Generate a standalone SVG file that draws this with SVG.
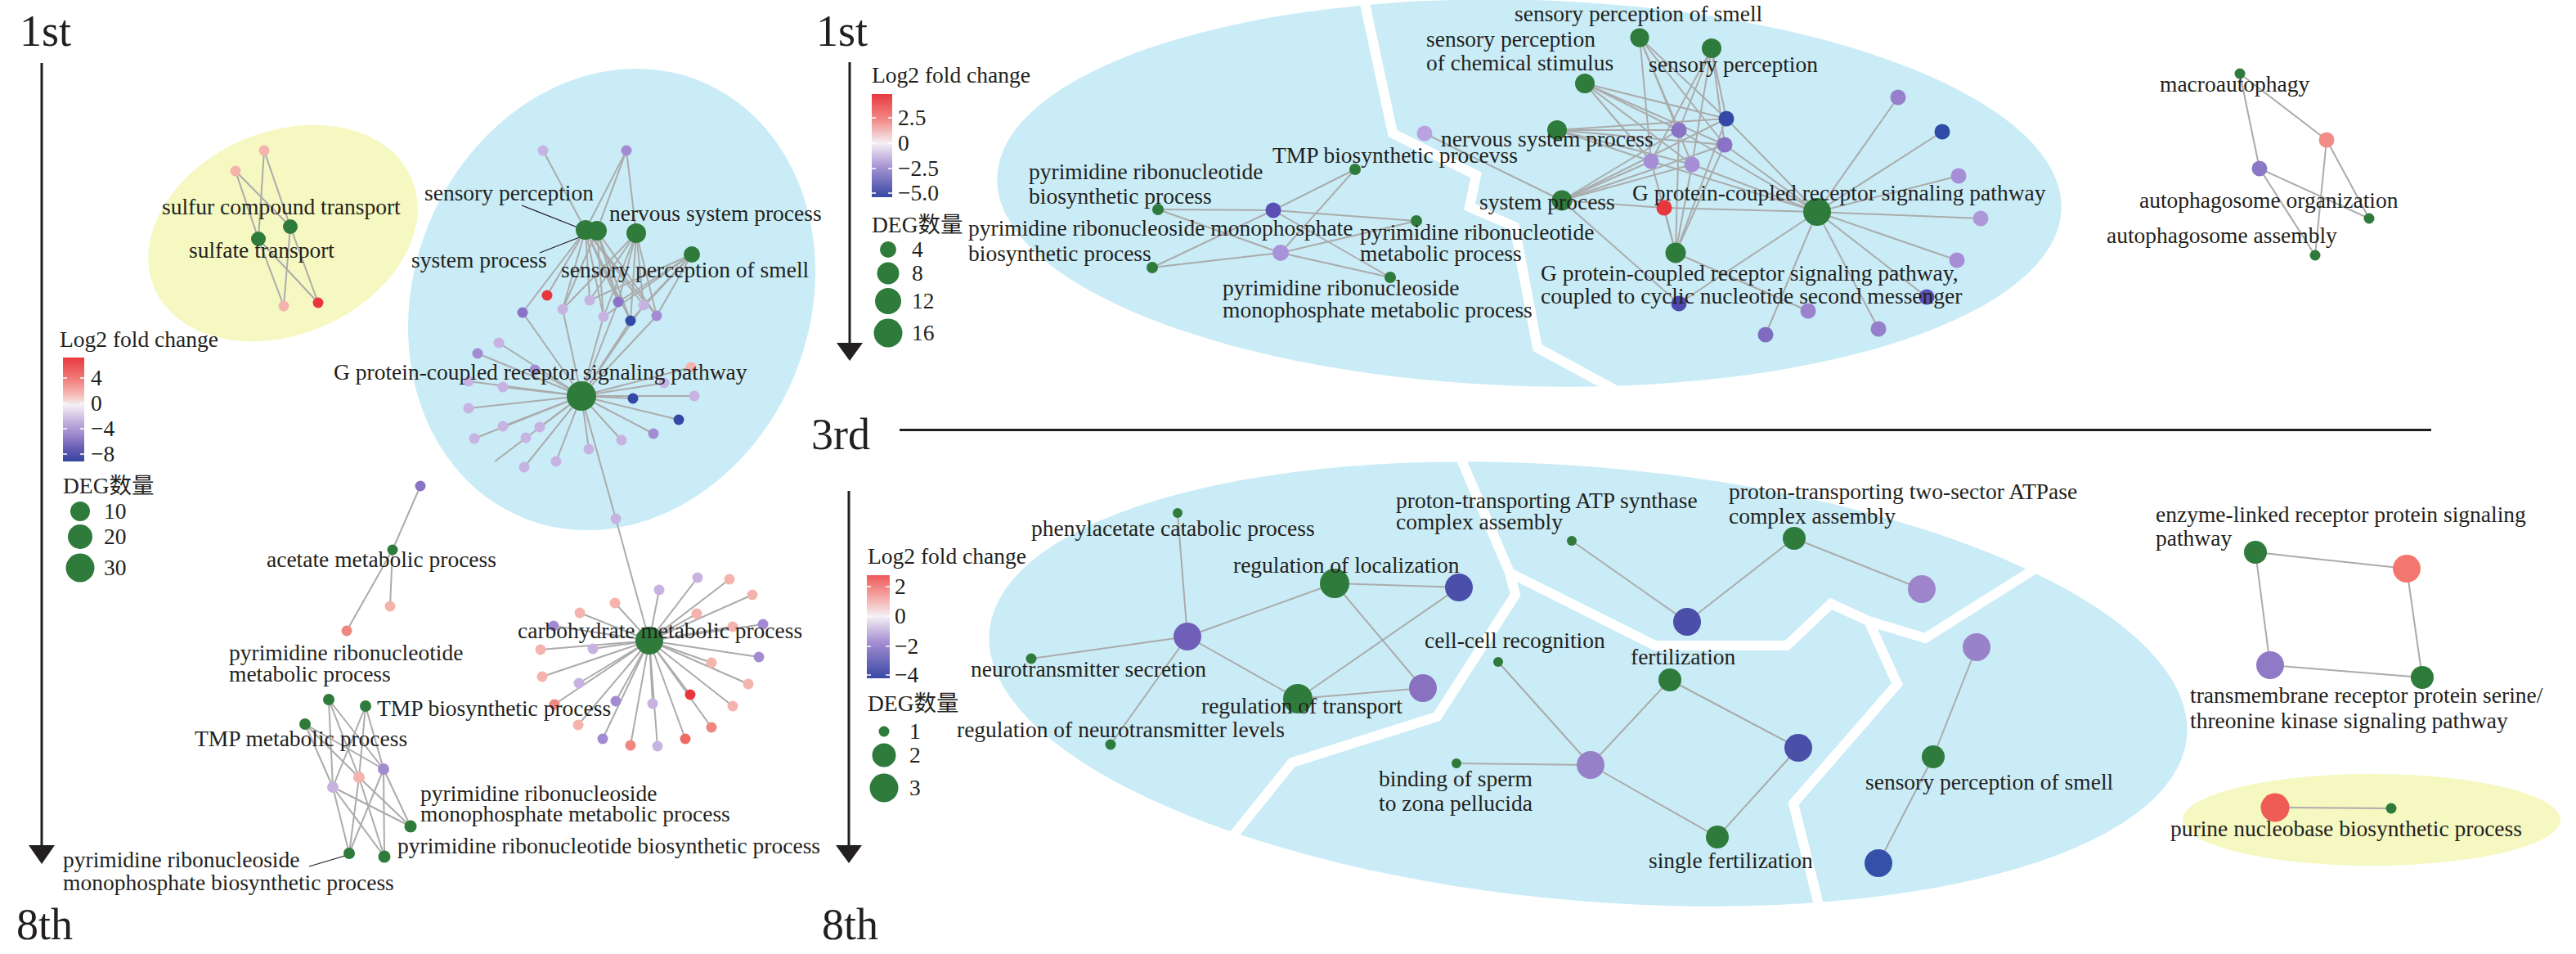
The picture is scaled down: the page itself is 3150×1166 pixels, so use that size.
<svg xmlns="http://www.w3.org/2000/svg" width="3150" height="1166" viewBox="0 0 3150 1166">
<defs>
<style>
.t{font-family:'Liberation Serif','Times New Roman','Noto Sans CJK SC',serif;font-size:27.5px;fill:#231F20}
.big{font-size:54px}
.e line{stroke:#ABABAB;stroke-width:2}
.ld{stroke:#231F20;stroke-width:1.3}
.ax{stroke:#231F20;stroke-width:3}
.wd{stroke:#FFFFFF;stroke-width:12;fill:none;stroke-linejoin:miter}
.tk{stroke:#FFFFFF;stroke-width:1.5}
.bg{fill:#C9ECF7}
.yb{fill:#F5F8C1}
.gr{fill:#2F7B3B}
.rd{fill:#E8373C}
.sa{fill:#F08680}
.pk{fill:#F5B3AD}
.lp{fill:#C7B3E1}
.pu{fill:#A38BD2}
.pm{fill:#8A72C5}
.bp{fill:#5A4FB3}
.bl{fill:#3449A6}
</style>
<linearGradient id="cb1" x1="0" y1="0" x2="0" y2="1">
<stop offset="0" stop-color="#E83A3F"/><stop offset="0.2" stop-color="#F07A78"/><stop offset="0.36" stop-color="#F6BCB8"/><stop offset="0.46" stop-color="#F4F0F4"/><stop offset="0.6" stop-color="#C9B7E0"/><stop offset="0.76" stop-color="#9583CA"/><stop offset="0.89" stop-color="#6258B0"/><stop offset="1" stop-color="#3347A0"/>
</linearGradient>
<linearGradient id="cb2" x1="0" y1="0" x2="0" y2="1">
<stop offset="0" stop-color="#E83A3F"/><stop offset="0.25" stop-color="#F28A87"/><stop offset="0.476" stop-color="#F4F0F4"/><stop offset="0.7" stop-color="#A995D4"/><stop offset="1" stop-color="#3848A4"/>
</linearGradient>
<linearGradient id="cb3" x1="0" y1="0" x2="0" y2="1">
<stop offset="0" stop-color="#EE5A5C"/><stop offset="0.2" stop-color="#F4A3A0"/><stop offset="0.4" stop-color="#F4F0F4"/><stop offset="0.65" stop-color="#A58ED3"/><stop offset="1" stop-color="#3848A4"/>
</linearGradient>
</defs>
<rect width="3150" height="1166" fill="#FFFFFF"/>

<g id="backgrounds">
<ellipse class="yb" cx="346" cy="285" rx="171" ry="124" transform="rotate(-23 346 285)"/>
<ellipse class="bg" cx="748" cy="366" rx="242" ry="288" transform="rotate(22 748 366)"/>
<ellipse class="bg" cx="1870" cy="236" rx="651" ry="236" transform="rotate(1.7 1870 236)"/>
<polyline class="wd" points="1667,-5 1703,163 1805,214 1797,253 1852,277 1880,425 1985,482"/>
<ellipse class="bg" cx="1942" cy="836" rx="735" ry="265" transform="rotate(5 1942 836)"/>
<polyline class="wd" points="1784,555 1846,700 1853,727 1757,876 1580,932 1505,1025"/>
<polyline class="wd" points="1846,700 2024,789 2185,789 2239,738 2285,759 2354,780 2492,693"/>
<polyline class="wd" points="2285,759 2320,836 2193,982 2225,1110"/>
<ellipse class="yb" cx="2900" cy="1002" rx="231" ry="56"/>
</g>

<g id="axes">
<text class="t big" x="24" y="56">1st</text>
<line class="ax" x1="51" y1="77" x2="51" y2="1036"/>
<polygon points="35,1033 67,1033 51,1056" fill="#231F20"/>
<text class="t big" x="20" y="1148">8th</text>
<text class="t big" x="998" y="56">1st</text>
<line class="ax" x1="1039" y1="76" x2="1039" y2="422"/>
<polygon points="1023,419 1055,419 1039,441" fill="#231F20"/>
<text class="t big" x="992" y="549">3rd</text>
<line class="ax" x1="1100" y1="525.5" x2="2973" y2="525.5"/>
<line class="ax" x1="1038" y1="600" x2="1038" y2="1036"/>
<polygon points="1022,1033 1054,1033 1038,1055" fill="#231F20"/>
<text class="t big" x="1005" y="1148">8th</text>
</g>

<g id="legend-left">
<text class="t" x="73" y="424">Log2 fold change</text>
<rect x="77" y="437" width="26" height="127" fill="url(#cb1)"/>
<path class="tk" d="M77,462h5M98,462h5M77,493h5M98,493h5M77,524h5M98,524h5M77,555h5M98,555h5"/>
<text class="t" x="111" y="471">4</text>
<text class="t" x="111" y="502">0</text>
<text class="t" x="111" y="533">−4</text>
<text class="t" x="111" y="564">−8</text>
<text class="t" x="77" y="603">DEG数量</text>
<circle class="gr" cx="98" cy="625" r="12"/>
<circle class="gr" cx="98" cy="656" r="15"/>
<circle class="gr" cx="98" cy="694" r="17.5"/>
<text class="t" x="127" y="634">10</text>
<text class="t" x="127" y="665">20</text>
<text class="t" x="127" y="703">30</text>
</g>

<g id="legend-top">
<text class="t" x="1066" y="101">Log2 fold change</text>
<rect x="1066" y="115" width="25" height="126" fill="url(#cb2)"/>
<path class="tk" d="M1066,144h5M1086,144h5M1066,175h5M1086,175h5M1066,206h5M1086,206h5M1066,236h5M1086,236h5"/>
<text class="t" x="1098" y="153">2.5</text>
<text class="t" x="1098" y="184">0</text>
<text class="t" x="1098" y="215">−2.5</text>
<text class="t" x="1098" y="245">−5.0</text>
<text class="t" x="1066" y="284">DEG数量</text>
<circle class="gr" cx="1086" cy="305" r="10"/>
<circle class="gr" cx="1086" cy="334" r="13.5"/>
<circle class="gr" cx="1086" cy="368" r="16"/>
<circle class="gr" cx="1086" cy="407" r="17.5"/>
<text class="t" x="1115" y="314">4</text>
<text class="t" x="1115" y="343">8</text>
<text class="t" x="1115" y="377">12</text>
<text class="t" x="1115" y="416">16</text>
</g>

<g id="legend-bottom">
<text class="t" x="1061" y="689">Log2 fold change</text>
<rect x="1060" y="703" width="28" height="126" fill="url(#cb3)"/>
<path class="tk" d="M1060,717h5M1083,717h5M1060,753h5M1083,753h5M1060,790h5M1083,790h5M1060,825h5M1083,825h5"/>
<text class="t" x="1094" y="726">2</text>
<text class="t" x="1094" y="762">0</text>
<text class="t" x="1094" y="799">−2</text>
<text class="t" x="1094" y="834">−4</text>
<text class="t" x="1061" y="869">DEG数量</text>
<circle class="gr" cx="1081" cy="894" r="6.5"/>
<circle class="gr" cx="1081" cy="923" r="14.5"/>
<circle class="gr" cx="1081" cy="963" r="17.5"/>
<text class="t" x="1112" y="903">1</text>
<text class="t" x="1112" y="932">2</text>
<text class="t" x="1112" y="972">3</text>
</g>

<g id="connectors" class="e">
<line x1="355" y1="277" x2="323" y2="184"/><line x1="355" y1="277" x2="288" y2="209"/><line x1="355" y1="277" x2="347" y2="374"/><line x1="355" y1="277" x2="389" y2="370"/>
<line x1="316" y1="292" x2="323" y2="184"/><line x1="316" y1="292" x2="288" y2="209"/><line x1="316" y1="292" x2="347" y2="374"/><line x1="316" y1="292" x2="389" y2="370"/>
<line x1="716" y1="281" x2="664" y2="184"/><line x1="716" y1="281" x2="766" y2="184"/><line x1="716" y1="281" x2="669" y2="361"/><line x1="716" y1="281" x2="639" y2="382"/><line x1="716" y1="281" x2="688" y2="378"/><line x1="716" y1="281" x2="721" y2="367"/><line x1="716" y1="281" x2="756" y2="369"/><line x1="716" y1="281" x2="738" y2="387"/><line x1="716" y1="281" x2="771" y2="392"/><line x1="716" y1="281" x2="787" y2="373"/><line x1="716" y1="281" x2="803" y2="386"/>
<line x1="730" y1="282" x2="766" y2="184"/><line x1="730" y1="282" x2="688" y2="378"/><line x1="730" y1="282" x2="756" y2="369"/><line x1="730" y1="282" x2="738" y2="387"/><line x1="730" y1="282" x2="771" y2="392"/><line x1="730" y1="282" x2="803" y2="386"/>
<line x1="778" y1="285" x2="766" y2="184"/><line x1="778" y1="285" x2="688" y2="378"/><line x1="778" y1="285" x2="721" y2="367"/><line x1="778" y1="285" x2="756" y2="369"/><line x1="778" y1="285" x2="738" y2="387"/><line x1="778" y1="285" x2="771" y2="392"/><line x1="778" y1="285" x2="787" y2="373"/><line x1="778" y1="285" x2="803" y2="386"/>
<line x1="846" y1="311" x2="721" y2="367"/><line x1="846" y1="311" x2="756" y2="369"/><line x1="846" y1="311" x2="738" y2="387"/><line x1="846" y1="311" x2="771" y2="392"/><line x1="846" y1="311" x2="787" y2="373"/><line x1="846" y1="311" x2="803" y2="386"/>
<line x1="711" y1="484" x2="639" y2="382"/><line x1="711" y1="484" x2="688" y2="378"/><line x1="711" y1="484" x2="738" y2="387"/><line x1="711" y1="484" x2="756" y2="369"/><line x1="711" y1="484" x2="771" y2="392"/><line x1="711" y1="484" x2="803" y2="386"/><line x1="711" y1="484" x2="787" y2="373"/>
<line x1="711" y1="484" x2="610" y2="419"/><line x1="711" y1="484" x2="584" y2="432"/><line x1="711" y1="484" x2="654" y2="452"/><line x1="711" y1="484" x2="573" y2="466"/><line x1="711" y1="484" x2="615" y2="473"/><line x1="711" y1="484" x2="573" y2="499"/><line x1="711" y1="484" x2="774" y2="487"/><line x1="711" y1="484" x2="845" y2="449"/><line x1="711" y1="484" x2="812" y2="468"/><line x1="711" y1="484" x2="849" y2="484"/><line x1="711" y1="484" x2="830" y2="513"/><line x1="711" y1="484" x2="799" y2="530"/><line x1="711" y1="484" x2="760" y2="538"/><line x1="711" y1="484" x2="720" y2="549"/><line x1="711" y1="484" x2="680" y2="564"/><line x1="711" y1="484" x2="641" y2="571"/><line x1="711" y1="484" x2="660" y2="522"/><line x1="711" y1="484" x2="615" y2="521"/><line x1="711" y1="484" x2="605" y2="564"/><line x1="711" y1="484" x2="580" y2="536"/><line x1="711" y1="484" x2="753" y2="634"/>
<line x1="480" y1="672" x2="514" y2="594"/><line x1="480" y1="672" x2="477" y2="741"/><line x1="480" y1="672" x2="424" y2="771"/>
<line x1="794" y1="783" x2="753" y2="634"/><line x1="794" y1="783" x2="806" y2="721"/><line x1="794" y1="783" x2="853" y2="706"/><line x1="794" y1="783" x2="892" y2="708"/><line x1="794" y1="783" x2="920" y2="727"/><line x1="794" y1="783" x2="752" y2="737"/><line x1="794" y1="783" x2="852" y2="750"/><line x1="794" y1="783" x2="709" y2="749"/><line x1="794" y1="783" x2="677" y2="765"/><line x1="794" y1="783" x2="896" y2="766"/><line x1="794" y1="783" x2="933" y2="763"/><line x1="794" y1="783" x2="661" y2="794"/><line x1="794" y1="783" x2="725" y2="793"/><line x1="794" y1="783" x2="928" y2="803"/><line x1="794" y1="783" x2="870" y2="810"/><line x1="794" y1="783" x2="663" y2="827"/><line x1="794" y1="783" x2="708" y2="835"/><line x1="794" y1="783" x2="915" y2="836"/><line x1="794" y1="783" x2="844" y2="849"/><line x1="794" y1="783" x2="753" y2="857"/><line x1="794" y1="783" x2="798" y2="860"/><line x1="794" y1="783" x2="678" y2="861"/><line x1="794" y1="783" x2="896" y2="863"/><line x1="794" y1="783" x2="707" y2="886"/><line x1="794" y1="783" x2="870" y2="889"/><line x1="794" y1="783" x2="737" y2="903"/><line x1="794" y1="783" x2="771" y2="911"/><line x1="794" y1="783" x2="804" y2="912"/><line x1="794" y1="783" x2="838" y2="903"/>
<line x1="402" y1="855" x2="469" y2="940"/><line x1="402" y1="855" x2="439" y2="950"/><line x1="402" y1="855" x2="407" y2="962"/>
<line x1="447" y1="863" x2="469" y2="940"/><line x1="447" y1="863" x2="439" y2="950"/><line x1="447" y1="863" x2="407" y2="962"/>
<line x1="373" y1="885" x2="469" y2="940"/><line x1="373" y1="885" x2="439" y2="950"/><line x1="373" y1="885" x2="407" y2="962"/>
<line x1="502" y1="1010" x2="469" y2="940"/><line x1="502" y1="1010" x2="439" y2="950"/><line x1="502" y1="1010" x2="407" y2="962"/>
<line x1="427" y1="1043" x2="469" y2="940"/><line x1="427" y1="1043" x2="439" y2="950"/><line x1="427" y1="1043" x2="407" y2="962"/>
<line x1="470" y1="1047" x2="469" y2="940"/><line x1="470" y1="1047" x2="439" y2="950"/><line x1="470" y1="1047" x2="407" y2="962"/>
<line x1="1416" y1="256" x2="1557" y2="257"/><line x1="1416" y1="256" x2="1566" y2="309"/><line x1="1657" y1="207" x2="1557" y2="257"/><line x1="1657" y1="207" x2="1566" y2="309"/><line x1="1409" y1="327" x2="1557" y2="257"/><line x1="1409" y1="327" x2="1566" y2="309"/><line x1="1700" y1="339" x2="1557" y2="257"/><line x1="1700" y1="339" x2="1566" y2="309"/><line x1="1732" y1="270" x2="1557" y2="257"/><line x1="1732" y1="270" x2="1566" y2="309"/>
<line x1="2005" y1="46" x2="2111" y2="145"/><line x1="2005" y1="46" x2="2053" y2="159"/><line x1="2005" y1="46" x2="2109" y2="177"/><line x1="2005" y1="46" x2="2019" y2="197"/><line x1="2005" y1="46" x2="2069" y2="201"/>
<line x1="2093" y1="59" x2="2111" y2="145"/><line x1="2093" y1="59" x2="2053" y2="159"/><line x1="2093" y1="59" x2="2109" y2="177"/><line x1="2093" y1="59" x2="2019" y2="197"/><line x1="2093" y1="59" x2="2069" y2="201"/>
<line x1="1938" y1="102" x2="2111" y2="145"/><line x1="1938" y1="102" x2="2053" y2="159"/><line x1="1938" y1="102" x2="2109" y2="177"/><line x1="1938" y1="102" x2="2019" y2="197"/><line x1="1938" y1="102" x2="2069" y2="201"/>
<line x1="1904" y1="159" x2="2111" y2="145"/><line x1="1904" y1="159" x2="2053" y2="159"/><line x1="1904" y1="159" x2="2109" y2="177"/><line x1="1904" y1="159" x2="2019" y2="197"/><line x1="1904" y1="159" x2="2069" y2="201"/>
<line x1="1910" y1="245" x2="2111" y2="145"/><line x1="1910" y1="245" x2="2053" y2="159"/><line x1="1910" y1="245" x2="2109" y2="177"/><line x1="1910" y1="245" x2="2019" y2="197"/><line x1="1910" y1="245" x2="2069" y2="201"/><line x1="1910" y1="245" x2="2035" y2="254"/><line x1="1910" y1="245" x2="1742" y2="163"/><line x1="1910" y1="245" x2="2053" y2="371"/>
<line x1="2049" y1="309" x2="2111" y2="145"/><line x1="2049" y1="309" x2="2053" y2="159"/><line x1="2049" y1="309" x2="2109" y2="177"/><line x1="2049" y1="309" x2="2019" y2="197"/><line x1="2049" y1="309" x2="2069" y2="201"/><line x1="2049" y1="309" x2="2035" y2="254"/><line x1="2049" y1="309" x2="2211" y2="380"/>
<line x1="2222" y1="259" x2="2111" y2="145"/><line x1="2222" y1="259" x2="2053" y2="159"/><line x1="2222" y1="259" x2="2109" y2="177"/><line x1="2222" y1="259" x2="2019" y2="197"/><line x1="2222" y1="259" x2="2069" y2="201"/><line x1="2222" y1="259" x2="2035" y2="254"/><line x1="2222" y1="259" x2="2321" y2="119"/><line x1="2222" y1="259" x2="2375" y2="161"/><line x1="2222" y1="259" x2="2395" y2="215"/><line x1="2222" y1="259" x2="2422" y2="267"/><line x1="2222" y1="259" x2="2393" y2="318"/><line x1="2222" y1="259" x2="2356" y2="363"/><line x1="2222" y1="259" x2="2297" y2="402"/><line x1="2222" y1="259" x2="2159" y2="409"/><line x1="2222" y1="259" x2="2053" y2="371"/>
<line x1="2739" y1="90" x2="2845" y2="171"/><line x1="2739" y1="90" x2="2763" y2="206"/><line x1="2897" y1="267" x2="2845" y2="171"/><line x1="2897" y1="267" x2="2763" y2="206"/><line x1="2831" y1="312" x2="2845" y2="171"/><line x1="2831" y1="312" x2="2763" y2="206"/>
<line x1="2758" y1="675" x2="2943" y2="695"/><line x1="2758" y1="675" x2="2776" y2="813"/><line x1="2962" y1="828" x2="2943" y2="695"/><line x1="2962" y1="828" x2="2776" y2="813"/>
<line x1="2924" y1="988" x2="2782" y2="987"/>
<line x1="1452" y1="778" x2="1440" y2="627"/><line x1="1452" y1="778" x2="1261" y2="805"/><line x1="1452" y1="778" x2="1358" y2="910"/><line x1="1452" y1="778" x2="1632" y2="713"/><line x1="1452" y1="778" x2="1587" y2="854"/>
<line x1="1632" y1="713" x2="1784" y2="718"/><line x1="1632" y1="713" x2="1740" y2="841"/><line x1="1587" y1="854" x2="1784" y2="718"/><line x1="1587" y1="854" x2="1740" y2="841"/>
<line x1="1922" y1="661" x2="2063" y2="760"/><line x1="2194" y1="658" x2="2063" y2="760"/><line x1="2194" y1="658" x2="2350" y2="720"/>
<line x1="1832" y1="809" x2="1945" y2="935"/><line x1="1781" y1="933" x2="1945" y2="935"/><line x1="2042" y1="831" x2="1945" y2="935"/><line x1="2100" y1="1023" x2="1945" y2="935"/><line x1="2042" y1="831" x2="2199" y2="914"/><line x1="2100" y1="1023" x2="2199" y2="914"/>
<line x1="2364" y1="925" x2="2417" y2="791"/><line x1="2364" y1="925" x2="2297" y2="1055"/>
</g>

<g id="leaders">
<line class="ld" x1="638" y1="251" x2="709" y2="279"/>
<line class="ld" x1="660" y1="309" x2="729" y2="282"/>
<line class="ld" x1="378" y1="1059" x2="425" y2="1045"/>
</g>

<g id="genes-left">
<g id="y1"><circle class="pk" cx="323" cy="184" r="6.5"/></g>
<g id="y2"><circle class="pk" cx="288" cy="209" r="6.5"/></g>
<g id="y3"><circle class="pk" cx="347" cy="374" r="6.5"/></g>
<g id="y4"><circle class="rd" cx="389" cy="370" r="6.5"/></g>
<g id="a1"><circle class="lp" cx="664" cy="184" r="6.5"/></g>
<g id="a2"><circle class="pu" cx="766" cy="184" r="6.5"/></g>
<g id="m1"><circle class="rd" cx="669" cy="361" r="6.5"/></g>
<g id="m2"><circle class="pm" cx="639" cy="382" r="6.5"/></g>
<g id="m3"><circle class="lp" cx="688" cy="378" r="6.5"/></g>
<g id="m4"><circle class="lp" cx="721" cy="367" r="6.5"/></g>
<g id="m5"><circle class="pm" cx="756" cy="369" r="6.5"/></g>
<g id="m6"><circle class="lp" cx="738" cy="387" r="6.5"/></g>
<g id="m7"><circle class="bl" cx="771" cy="392" r="6.5"/></g>
<g id="m8"><circle class="lp" cx="787" cy="373" r="6.5"/></g>
<g id="m9"><circle class="pu" cx="803" cy="386" r="6.5"/></g>
<g id="s1"><circle class="lp" cx="610" cy="419" r="6.5"/></g>
<g id="s2"><circle class="pu" cx="584" cy="432" r="6.5"/></g>
<g id="s3"><circle class="pu" cx="654" cy="452" r="6.5"/></g>
<g id="s4"><circle class="lp" cx="573" cy="466" r="6.5"/></g>
<g id="s5"><circle class="lp" cx="615" cy="473" r="6.5"/></g>
<g id="s6"><circle class="lp" cx="573" cy="499" r="6.5"/></g>
<g id="s7"><circle class="bl" cx="774" cy="487" r="6.5"/></g>
<g id="s8"><circle class="pk" cx="845" cy="449" r="6.5"/></g>
<g id="s9"><circle class="lp" cx="812" cy="468" r="6.5"/></g>
<g id="s10"><circle class="lp" cx="849" cy="484" r="6.5"/></g>
<g id="s11"><circle class="bl" cx="830" cy="513" r="6.5"/></g>
<g id="s12"><circle class="pu" cx="799" cy="530" r="6.5"/></g>
<g id="s13"><circle class="lp" cx="760" cy="538" r="6.5"/></g>
<g id="s14"><circle class="lp" cx="720" cy="549" r="6.5"/></g>
<g id="s15"><circle class="lp" cx="680" cy="564" r="6.5"/></g>
<g id="s16"><circle class="lp" cx="641" cy="571" r="6.5"/></g>
<g id="s17"><circle class="lp" cx="660" cy="522" r="6.5"/></g>
<g id="s18"><circle class="lp" cx="615" cy="521" r="6.5"/></g>
<g id="s19"><circle class="lp" cx="643" cy="535" r="6.5"/></g>
<g id="s20"><circle class="lp" cx="580" cy="536" r="6.5"/></g>
<g id="s21"><circle class="lp" cx="753" cy="634" r="6.5"/></g>
<g id="ac1"><circle class="pm" cx="514" cy="594" r="6.5"/></g>
<g id="ac2"><circle class="pk" cx="477" cy="741" r="6.5"/></g>
<g id="ac3"><circle class="sa" cx="424" cy="771" r="6.5"/></g>
<g id="c1"><circle class="lp" cx="806" cy="721" r="6.5"/></g>
<g id="c2"><circle class="lp" cx="853" cy="706" r="6.5"/></g>
<g id="c3"><circle class="pk" cx="892" cy="708" r="6.5"/></g>
<g id="c4"><circle class="pk" cx="920" cy="727" r="6.5"/></g>
<g id="c5"><circle class="pk" cx="752" cy="737" r="6.5"/></g>
<g id="c6"><circle class="pk" cx="852" cy="750" r="6.5"/></g>
<g id="c7"><circle class="pk" cx="709" cy="749" r="6.5"/></g>
<g id="c8"><circle class="pu" cx="677" cy="765" r="6.5"/></g>
<g id="c9"><circle class="pk" cx="896" cy="766" r="6.5"/></g>
<g id="c10"><circle class="pu" cx="933" cy="763" r="6.5"/></g>
<g id="c11"><circle class="pk" cx="661" cy="794" r="6.5"/></g>
<g id="c12"><circle class="lp" cx="725" cy="793" r="6.5"/></g>
<g id="c13"><circle class="pu" cx="928" cy="803" r="6.5"/></g>
<g id="c14"><circle class="pk" cx="870" cy="810" r="6.5"/></g>
<g id="c15"><circle class="pk" cx="663" cy="827" r="6.5"/></g>
<g id="c16"><circle class="lp" cx="708" cy="835" r="6.5"/></g>
<g id="c17"><circle class="pk" cx="915" cy="836" r="6.5"/></g>
<g id="c18"><circle class="rd" cx="844" cy="849" r="6.5"/></g>
<g id="c19"><circle class="pu" cx="753" cy="857" r="6.5"/></g>
<g id="c20"><circle class="lp" cx="798" cy="860" r="6.5"/></g>
<g id="c21"><circle class="sa" cx="678" cy="861" r="6.5"/></g>
<g id="c22"><circle class="pk" cx="896" cy="863" r="6.5"/></g>
<g id="c23"><circle class="pk" cx="707" cy="886" r="6.5"/></g>
<g id="c24"><circle class="sa" cx="870" cy="889" r="6.5"/></g>
<g id="c25"><circle class="pu" cx="737" cy="903" r="6.5"/></g>
<g id="c26"><circle class="sa" cx="771" cy="911" r="6.5"/></g>
<g id="c27"><circle class="lp" cx="804" cy="912" r="6.5"/></g>
<g id="c28"><circle fill="#EE6A66" cx="838" cy="903" r="6.5"/></g>
<g id="py1"><circle class="pu" cx="469" cy="940" r="7"/></g>
<g id="py2"><circle class="pk" cx="439" cy="950" r="7"/></g>
<g id="py3"><circle class="lp" cx="407" cy="962" r="7"/></g>
</g>

<g id="terms-left">
<g id="n-sulfur"><circle class="gr" cx="355" cy="277" r="9"/><text class="t" x="198" y="262">sulfur compound transport</text></g>
<g id="n-sulfate"><circle class="gr" cx="316" cy="292" r="9"/><text class="t" x="231" y="315">sulfate transport</text></g>
<g id="n-sysproc"><circle class="gr" cx="730" cy="282" r="12"/><text class="t" x="503" y="327">system process</text></g>
<g id="n-sensperc"><circle class="gr" cx="716" cy="281" r="12"/><text class="t" x="519" y="245">sensory perception</text></g>
<g id="n-nervous"><circle class="gr" cx="778" cy="285" r="12"/><text class="t" x="745" y="270">nervous system process</text></g>
<g id="n-smell"><circle class="gr" cx="846" cy="311" r="10"/><text class="t" x="686" y="339">sensory perception of smell</text></g>
<g id="n-gpcr"><circle class="gr" cx="711" cy="484" r="18"/><text class="t" x="408" y="464">G protein-coupled receptor signaling pathway</text></g>
<g id="n-acetate"><circle class="gr" cx="480" cy="672" r="6.5"/><text class="t" x="326" y="693">acetate metabolic process</text></g>
<g id="n-carb"><circle class="gr" cx="794" cy="783" r="17"/><text class="t" x="633" y="780">carbohydrate metabolic process</text></g>
<g id="n-prm"><circle class="gr" cx="402" cy="855" r="7"/><text class="t" x="280" y="807">pyrimidine ribonucleotide</text><text class="t" x="280" y="833">metabolic process</text></g>
<g id="n-tmpb"><circle class="gr" cx="447" cy="863" r="7"/><text class="t" x="461" y="875">TMP biosynthetic process</text></g>
<g id="n-tmpm"><circle class="gr" cx="373" cy="885" r="7"/><text class="t" x="238" y="912">TMP metabolic process</text></g>
<g id="n-prsmm"><circle class="gr" cx="502" cy="1010" r="7.5"/><text class="t" x="514" y="979">pyrimidine ribonucleoside</text><text class="t" x="514" y="1004">monophosphate metabolic process</text></g>
<g id="n-prsmb"><circle class="gr" cx="427" cy="1043" r="7"/><text class="t" x="77" y="1060">pyrimidine ribonucleoside</text><text class="t" x="77" y="1088">monophosphate biosynthetic process</text></g>
<g id="n-prb"><circle class="gr" cx="470" cy="1047" r="7.5"/><text class="t" x="486" y="1043">pyrimidine ribonucleotide biosynthetic process</text></g>
</g>

<g id="genes-top">
<g id="tg1"><circle class="bp" cx="1557" cy="257" r="9.5"/></g>
<g id="tg2"><circle fill="#A993D8" cx="1566" cy="309" r="10"/></g>
<g id="u1"><circle class="bl" cx="2111" cy="145" r="9.5"/></g>
<g id="u2"><circle class="pm" cx="2053" cy="159" r="9.5"/></g>
<g id="u3"><circle class="pm" cx="2109" cy="177" r="9.5"/></g>
<g id="u4"><circle fill="#A58ED5" cx="2019" cy="197" r="9.5"/></g>
<g id="u5"><circle fill="#A58ED5" cx="2069" cy="201" r="9.5"/></g>
<g id="ur"><circle class="rd" cx="2035" cy="254" r="9.5"/></g>
<g id="ux"><circle fill="#B9A3DE" cx="1742" cy="163" r="9.5"/></g>
<g id="t1"><circle fill="#9680CB" cx="2321" cy="119" r="9.5"/></g>
<g id="t2"><circle fill="#2F4BA8" cx="2375" cy="161" r="9.5"/></g>
<g id="t3"><circle fill="#A58ED5" cx="2395" cy="215" r="9.5"/></g>
<g id="t4"><circle fill="#AF98D8" cx="2422" cy="267" r="9.5"/></g>
<g id="t5"><circle fill="#A58ED5" cx="2393" cy="318" r="9.5"/></g>
<g id="t6"><circle class="bp" cx="2356" cy="363" r="9.5"/></g>
<g id="t7"><circle fill="#9680CB" cx="2297" cy="402" r="9.5"/></g>
<g id="t8"><circle fill="#9A82CD" cx="2211" cy="380" r="9.5"/></g>
<g id="t9"><circle fill="#7F6CC0" cx="2159" cy="409" r="9.5"/></g>
<g id="t10"><circle fill="#4E49AE" cx="2053" cy="371" r="9.5"/></g>
</g>

<g id="terms-top">
<g id="n-prb2"><circle class="gr" cx="1416" cy="256" r="7"/><text class="t" x="1258" y="219">pyrimidine ribonucleotide</text><text class="t" x="1258" y="249">biosynthetic process</text></g>
<g id="n-tmpb2"><circle class="gr" cx="1657" cy="207" r="7"/><text class="t" x="1556" y="199">TMP biosynthetic procevss</text></g>
<g id="n-prsmb2"><circle class="gr" cx="1409" cy="327" r="7"/><text class="t" x="1184" y="288">pyrimidine ribonucleoside monophosphate</text><text class="t" x="1184" y="319">biosynthetic process</text></g>
<g id="n-prsmm2"><circle class="gr" cx="1700" cy="339" r="7"/><text class="t" x="1495" y="361">pyrimidine ribonucleoside</text><text class="t" x="1495" y="388">monophosphate metabolic process</text></g>
<g id="n-prm2"><circle class="gr" cx="1732" cy="270" r="7"/><text class="t" x="1663" y="293">pyrimidine ribonucleotide</text><text class="t" x="1663" y="319">metabolic process</text></g>
<g id="n-smell2"><circle class="gr" cx="2005" cy="46" r="11.5"/><text class="t" x="1852" y="26">sensory perception of smell</text></g>
<g id="n-sensperc2"><circle class="gr" cx="2093" cy="59" r="12"/><text class="t" x="2016" y="88">sensory perception</text></g>
<g id="n-chem"><circle class="gr" cx="1938" cy="102" r="12"/><text class="t" x="1744" y="57">sensory perception</text><text class="t" x="1744" y="86">of chemical stimulus</text></g>
<g id="n-nervous2"><circle class="gr" cx="1904" cy="159" r="12"/><text class="t" x="1762" y="179">nervous system process</text></g>
<g id="n-sysproc2"><circle class="gr" cx="1910" cy="245" r="12.5"/><text class="t" x="1809" y="256">system process</text></g>
<g id="n-gcoup"><circle class="gr" cx="2049" cy="309" r="12.5"/><text class="t" x="1884" y="343">G protein-coupled receptor signaling pathway,</text><text class="t" x="1884" y="371">coupled to cyclic nucleotide second messenger</text></g>
<g id="n-gpcr2"><circle class="gr" cx="2222" cy="259" r="17"/><text class="t" x="1996" y="245">G protein-coupled receptor signaling pathway</text></g>
</g>

<g id="autophagy">
<g id="ag1"><circle fill="#F28C86" cx="2845" cy="171" r="9.5"/></g>
<g id="ag2"><circle fill="#8C78C6" cx="2763" cy="206" r="9.5"/></g>
<g id="n-macro"><circle class="gr" cx="2739" cy="90" r="6.5"/><text class="t" x="2641" y="112">macroautophagy</text></g>
<g id="n-aorg"><circle class="gr" cx="2897" cy="267" r="6.5"/><text class="t" x="2616" y="254">autophagosome organization</text></g>
<g id="n-aasm"><circle class="gr" cx="2831" cy="312" r="6.5"/><text class="t" x="2576" y="297">autophagosome assembly</text></g>
</g>

<g id="genes-bottom">
<g id="bg1"><circle fill="#6F5FB8" cx="1452" cy="778" r="17"/></g>
<g id="bg2"><circle fill="#4B4FAA" cx="1784" cy="718" r="17"/></g>
<g id="bg3"><circle fill="#8A70C0" cx="1740" cy="841" r="17"/></g>
<g id="bg4"><circle fill="#4B4FAA" cx="2063" cy="760" r="17"/></g>
<g id="bg5"><circle fill="#9E85CB" cx="2350" cy="720" r="17"/></g>
<g id="bg6"><circle fill="#9680C8" cx="1945" cy="935" r="17"/></g>
<g id="bg7"><circle fill="#4A4FA8" cx="2199" cy="914" r="17"/></g>
<g id="bg8"><circle fill="#9A82C9" cx="2417" cy="791" r="17"/></g>
<g id="bg9"><circle fill="#3550A8" cx="2297" cy="1055" r="17"/></g>
<g id="rg1"><circle fill="#F3776E" cx="2943" cy="695" r="17"/></g>
<g id="rg2"><circle fill="#8E7AC6" cx="2776" cy="813" r="17"/></g>
<g id="rg3"><circle fill="#EF5B55" cx="2782" cy="987" r="17.5"/></g>
</g>

<g id="terms-bottom">
<g id="n-phen"><circle class="gr" cx="1440" cy="627" r="6"/><text class="t" x="1261" y="655">phenylacetate catabolic process</text></g>
<g id="n-nts"><circle class="gr" cx="1261" cy="805" r="6.5"/><text class="t" x="1187" y="827">neurotransmitter secretion</text></g>
<g id="n-rnl"><circle class="gr" cx="1358" cy="910" r="6.5"/><text class="t" x="1170" y="901">regulation of neurotransmitter levels</text></g>
<g id="n-rloc"><circle class="gr" cx="1632" cy="713" r="18"/><text class="t" x="1508" y="700">regulation of localization</text></g>
<g id="n-rtr"><circle class="gr" cx="1587" cy="854" r="18"/><text class="t" x="1469" y="872">regulation of transport</text></g>
<g id="n-atps"><circle class="gr" cx="1922" cy="661" r="6"/><text class="t" x="1707" y="621">proton-transporting ATP synthase</text><text class="t" x="1707" y="647">complex assembly</text></g>
<g id="n-atpase"><circle class="gr" cx="2194" cy="658" r="14"/><text class="t" x="2114" y="610">proton-transporting two-sector ATPase</text><text class="t" x="2114" y="640">complex assembly</text></g>
<g id="n-ccr"><circle class="gr" cx="1832" cy="809" r="6"/><text class="t" x="1742" y="792">cell-cell recognition</text></g>
<g id="n-bsp"><circle class="gr" cx="1781" cy="933" r="6"/><text class="t" x="1686" y="961">binding of sperm</text><text class="t" x="1686" y="991">to zona pellucida</text></g>
<g id="n-fert"><circle class="gr" cx="2042" cy="831" r="14"/><text class="t" x="1994" y="812">fertilization</text></g>
<g id="n-sfert"><circle class="gr" cx="2100" cy="1023" r="14"/><text class="t" x="2016" y="1061">single fertilization</text></g>
<g id="n-smell3"><circle class="gr" cx="2364" cy="925" r="14"/><text class="t" x="2281" y="965">sensory perception of smell</text></g>
<g id="n-enz"><circle class="gr" cx="2758" cy="675" r="14"/><text class="t" x="2636" y="638">enzyme-linked receptor protein signaling</text><text class="t" x="2636" y="667">pathway</text></g>
<g id="n-tmr"><circle class="gr" cx="2962" cy="828" r="14"/><text class="t" x="2678" y="859">transmembrane receptor protein serine/</text><text class="t" x="2678" y="890">threonine kinase signaling pathway</text></g>
<g id="n-purine"><circle class="gr" cx="2924" cy="988" r="6.5"/><text class="t" x="2654" y="1022">purine nucleobase biosynthetic process</text></g>
</g>
</svg>
